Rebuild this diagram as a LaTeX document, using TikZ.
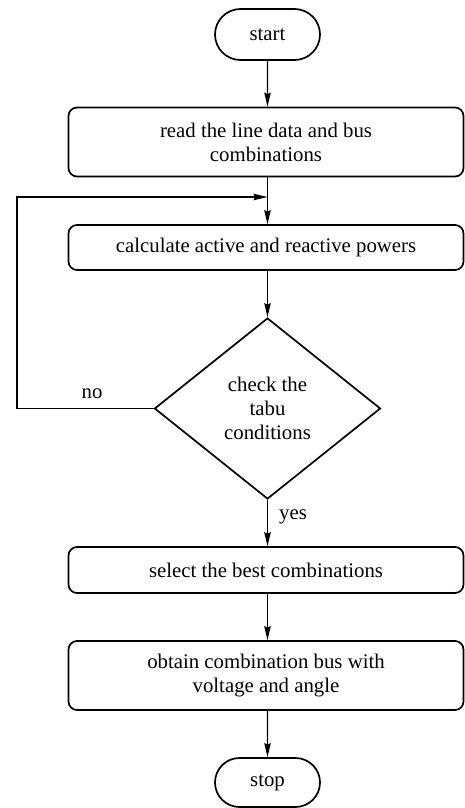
\documentclass[tikz,border=0pt]{standalone}
\usepackage{fontspec}
\setmainfont{Liberation Serif}
\usetikzlibrary{shapes.geometric,shapes.misc,arrows.meta}
\begin{document}
\begin{tikzpicture}[x=1pt,y=-1pt,
  font=\fontsize{20.8}{24}\selectfont,
  box/.style={draw,line width=1.7pt,rounded corners=8.5pt,minimum width=395pt,align=center,inner sep=0pt},
  term/.style={draw,line width=1.7pt,rounded rectangle,minimum width=105pt,inner sep=0pt},
  dia/.style={diamond,draw,line width=1.7pt,minimum width=226pt,minimum height=181pt,inner sep=0pt,align=center},
  conn/.style={line width=1.3pt,-{Stealth[length=14pt,width=6.5pt,inset=1.5pt]}},
  lbl/.style={inner sep=0pt}]
\useasboundingbox (0,0) rectangle (464,808);
\node[term,minimum height=51pt] (start) at (267.5,34.5) {start};
\node[box,minimum height=69pt] (b1) at (266,142) {read the line data and bus\\combinations};
\node[box,minimum height=45pt] (b2) at (266,247.5) {calculate active and reactive powers};
\node[dia] (d) at (267.5,408.5) {check the\\tabu\\conditions};
\node[box,minimum height=46pt] (b3) at (266,570) {select the best combinations};
\node[box,minimum height=69pt] (b4) at (266,675.5) {obtain combination bus with\\voltage and angle};
\node[term,minimum height=49pt] (stop) at (267.5,782.5) {stop};
\coordinate (c1) at (17,408.5);
\coordinate (c2) at (17,197);
\coordinate (j) at (267.5,197);
\draw[conn] (start) -- (start |- b1.north);
\draw[conn] (start |- b1.south) -- (start |- b2.north);
\draw[conn] (start |- b2.south) -- (d);
\draw[conn] (d) -- (d |- b3.north);
\draw[conn] (d |- b3.south) -- (d |- b4.north);
\draw[conn] (d |- b4.south) -- (stop);
\draw[conn] (d.west) -- (c1) -- (c2) -- (j);
\node[lbl] (no) at (92,394) {no};
\node[lbl] (yes) at (293,517) {yes};
\end{tikzpicture}
\end{document}
